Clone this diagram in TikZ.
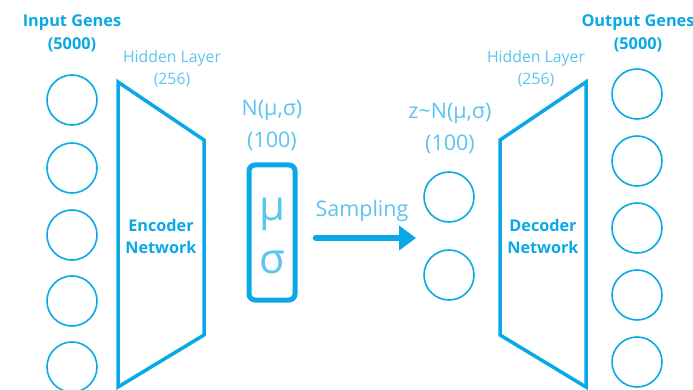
\documentclass[tikz,border=0pt]{standalone}
\usepackage{fontspec}
\setmainfont{Open Sans}
\usepackage{xcolor}
\usepackage{tikz}
\usetikzlibrary{arrows.meta}
\definecolor{vaeblue}{HTML}{0AA9E6}
\definecolor{vaelight}{HTML}{5CC4EE}
\tikzset{
  gene/.style={circle, draw=vaeblue, line width=1.6pt, minimum size=50pt, inner sep=0pt},
  net/.style={draw=vaeblue, line width=3.5pt, line join=miter},
  head/.style={text=vaeblue, font=\fontsize{16.3}{23}\selectfont\bfseries, align=center},
  hid/.style={text=vaelight, font=\fontsize{15.8}{22}\selectfont, align=center},
  dist/.style={text=vaelight, font=\fontsize{21.5}{32}\selectfont, align=center},
  netlab/.style={text=vaeblue, font=\fontsize{16.2}{22}\selectfont\bfseries, align=center},
  param/.style={draw=vaeblue, line width=5pt, rounded corners=6pt, minimum width=46pt, minimum height=135pt, inner sep=0pt},
  greek/.style={text=vaelight, font=\fontsize{42}{42}\selectfont},
  samp/.style={draw=vaeblue, line width=6.5pt, line cap=round, -{Triangle[length=17pt,width=24pt]}},
}
\begin{document}
\begin{tikzpicture}[x=1pt,y=-1pt]
  \useasboundingbox (0,0) rectangle (693,390);
  % input and output genes
  \foreach \i/\y in {1/100,2/168,3/235,4/301,5/367}
    \node[gene] (in\i) at (72,\y) {};
  \foreach \i/\y in {1/94,2/161,3/228,4/295,5/362}
    \node[gene] (out\i) at (637,\y) {};
  \node[head] (inlab) at (72,33) {Input Genes\\(5000)};
  \node[head] (outlab) at (638,33) {Output Genes\\(5000)};
  % encoder and decoder
  \draw[net] (118,82) -- (204,140) -- (204,335) -- (118,387) -- cycle;
  \draw[net] (586,82) -- (500,140) -- (500,335) -- (586,387) -- cycle;
  \node[netlab] (enc) at (161,236) {Encoder\\Network};
  \node[netlab] (dec) at (543,236) {Decoder\\Network};
  \node[hid] (hidl) at (172,69) {Hidden Layer\\(256)};
  \node[hid] (hidr) at (536,69) {Hidden Layer\\(256)};
  % latent space
  \node[param] (box) at (272,232.5) {};
  \node[greek] (mu) at (272,214) {μ};
  \node[greek] (sig) at (272,262) {σ};
  \node[dist] (nlab) at (272,126) {N(μ,σ)\\(100)};
  \node[gene] (z1) at (449,197) {};
  \node[gene] (z2) at (449,275) {};
  \node[dist] (zlab) at (450,129) {z\textasciitilde N(μ,σ)\\(100)};
  \coordinate (sa) at (316,238);
  \coordinate (sb) at (416,238);
  \draw[samp] (sa) -- (sb);
  \node[dist] (samplab) at (362,211) {Sampling};
\end{tikzpicture}
\end{document}
